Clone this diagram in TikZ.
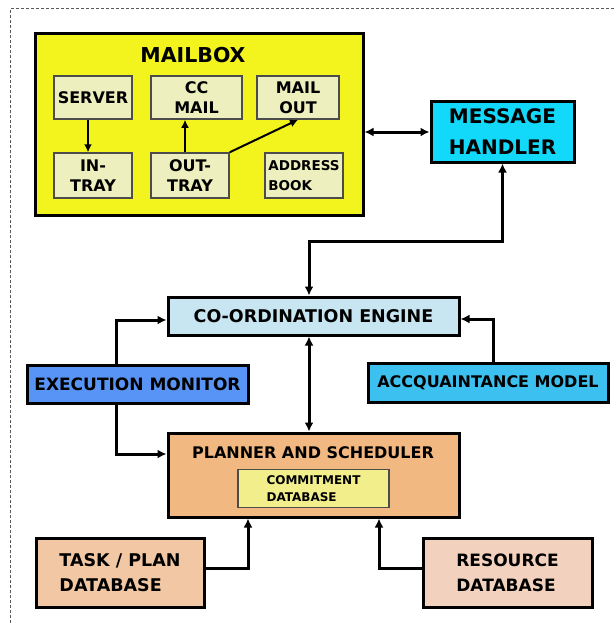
\documentclass[tikz,border=0pt]{standalone}
\usepackage{fontspec}
\setmainfont{DejaVu Sans}
\usetikzlibrary{arrows.meta}
\definecolor{mailyellow}{RGB}{243,243,30}
\definecolor{traybeige}{RGB}{237,239,190}
\definecolor{handlercyan}{RGB}{18,216,250}
\definecolor{enginebl}{RGB}{200,230,242}
\definecolor{monitorbl}{RGB}{88,148,245}
\definecolor{acqbl}{RGB}{60,192,240}
\definecolor{planorange}{RGB}{242,184,130}
\definecolor{commityel}{RGB}{243,238,140}
\definecolor{taskpeach}{RGB}{242,200,164}
\definecolor{respeach}{RGB}{242,210,190}
\tikzset{
	fnt/.style 2 args={font=\fontsize{#1}{#2}\selectfont\bfseries},
	outer/.style={draw=black,line width=3pt,inner sep=0pt,align=center},
	tray/.style={draw=black!70,line width=1.5pt,fill=traybeige,inner sep=0pt,align=center,
		minimum height=43pt,fnt={16}{20}},
	link/.style={line width=3pt,-{Latex[length=9pt,width=9pt]}},
	dlink/.style={line width=3pt,{Latex[length=9pt,width=9pt]}-{Latex[length=9pt,width=9pt]}},
	tlink/.style={line width=2pt,-{Latex[length=8pt,width=8pt]}}
}
\begin{document}
\begin{tikzpicture}[x=1pt,y=-1pt]
	\useasboundingbox (0,0) rectangle (615,623);
	\draw[black!65,line width=1pt,dash pattern=on 3pt off 2pt] (10,623) |- (615,9);
	% mailbox
	\node[outer,fill=mailyellow,minimum width=328pt,minimum height=181pt] (mailbox) at (199,124.5) {};
	\node[fnt={20.5}{24}] (mailtitle) at (193,55) {MAILBOX};
	\node[tray,minimum width=78pt] (server) at (93,97.5) {SERVER};
	\node[tray,minimum width=91pt] (ccmail) at (196.5,97.5) {CC\\MAIL};
	\node[tray,minimum width=82pt] (mailout) at (298,97.5) {MAIL\\OUT};
	\node[tray,minimum width=78pt,minimum height=45pt] (intray) at (93,175.5) {IN-\\TRAY};
	\node[tray,minimum width=78pt,minimum height=45pt] (outtray) at (190,175.5) {OUT-\\TRAY};
	\node[tray,minimum width=78pt,minimum height=45pt,align=left,fnt={13.5}{20}] (addrbook) at (304,175.5) {ADDRESS\\BOOK};
	\draw[tlink] ([xshift=-5pt]server.south) -- ([xshift=-5pt]intray.north);
	\draw[tlink] ([xshift=-5pt]outtray.north) -- ([xshift=-5pt]outtray.north |- ccmail.south);
	\draw[tlink] (outtray.north east) -- (mailout.south);
	% agent boxes
	\node[outer,fill=handlercyan,minimum width=143pt,minimum height=60pt,fnt={20}{31}] (handler) at (502.5,132) {MESSAGE\\HANDLER};
	\node[outer,fill=enginebl,minimum width=291pt,minimum height=38pt,fnt={17.5}{21}] (engine) at (313.5,316) {CO-ORDINATION ENGINE};
	\node[outer,fill=monitorbl,minimum width=221pt,minimum height=38pt,fnt={17}{21}] (monitor) at (137.5,384) {EXECUTION MONITOR};
	\node[outer,fill=acqbl,minimum width=240pt,minimum height=39pt,fnt={16}{20}] (acq) at (488,382.5) {ACCQUAINTANCE MODEL};
	\node[outer,fill=planorange,minimum width=291pt,minimum height=84pt] (planner) at (313.5,475) {};
	\node[fnt={16}{20}] (plantitle) at (313,453) {PLANNER AND SCHEDULER};
	\node[draw=black!70,line width=1.5pt,fill=commityel,inner sep=0pt,minimum width=151pt,minimum height=38pt,
		align=left,fnt={12}{17}] (commit) at (313.5,488.5) {COMMITMENT\\DATABASE};
	\node[outer,fill=taskpeach,minimum width=168pt,minimum height=69pt,align=left,fnt={17.5}{25}] (taskplan) at (120,572.5) {TASK / PLAN\\DATABASE};
	\node[outer,fill=respeach,minimum width=169pt,minimum height=69pt,align=left,fnt={17}{25}] (resource) at (507.5,572.5) {RESOURCE\\DATABASE};
	% connectors
	\draw[dlink] (mailbox.east |- handler.west) -- (handler.west);
	\draw[dlink] ([xshift=-4.5pt]engine.north) -- ++(0,-54) -| (handler.south);
	\draw[link] ([xshift=5pt]acq.north) |- ([yshift=-3pt]engine.east);
	\draw[link] ([xshift=-21.5pt]monitor.north) |- ([yshift=-4pt]engine.west);
	\draw[link] ([xshift=-21.5pt]monitor.south) |- ([yshift=21pt]planner.west);
	\draw[dlink] ([xshift=-4.5pt]engine.south) -- ([xshift=-4.5pt]planner.north);
	\draw[link] ([yshift=4.5pt]taskplan.east) -| ([xshift=-65.5pt]planner.south);
	\draw[link] ([yshift=4.5pt]resource.west) -| ([xshift=65.5pt]planner.south);
\end{tikzpicture}
\end{document}
